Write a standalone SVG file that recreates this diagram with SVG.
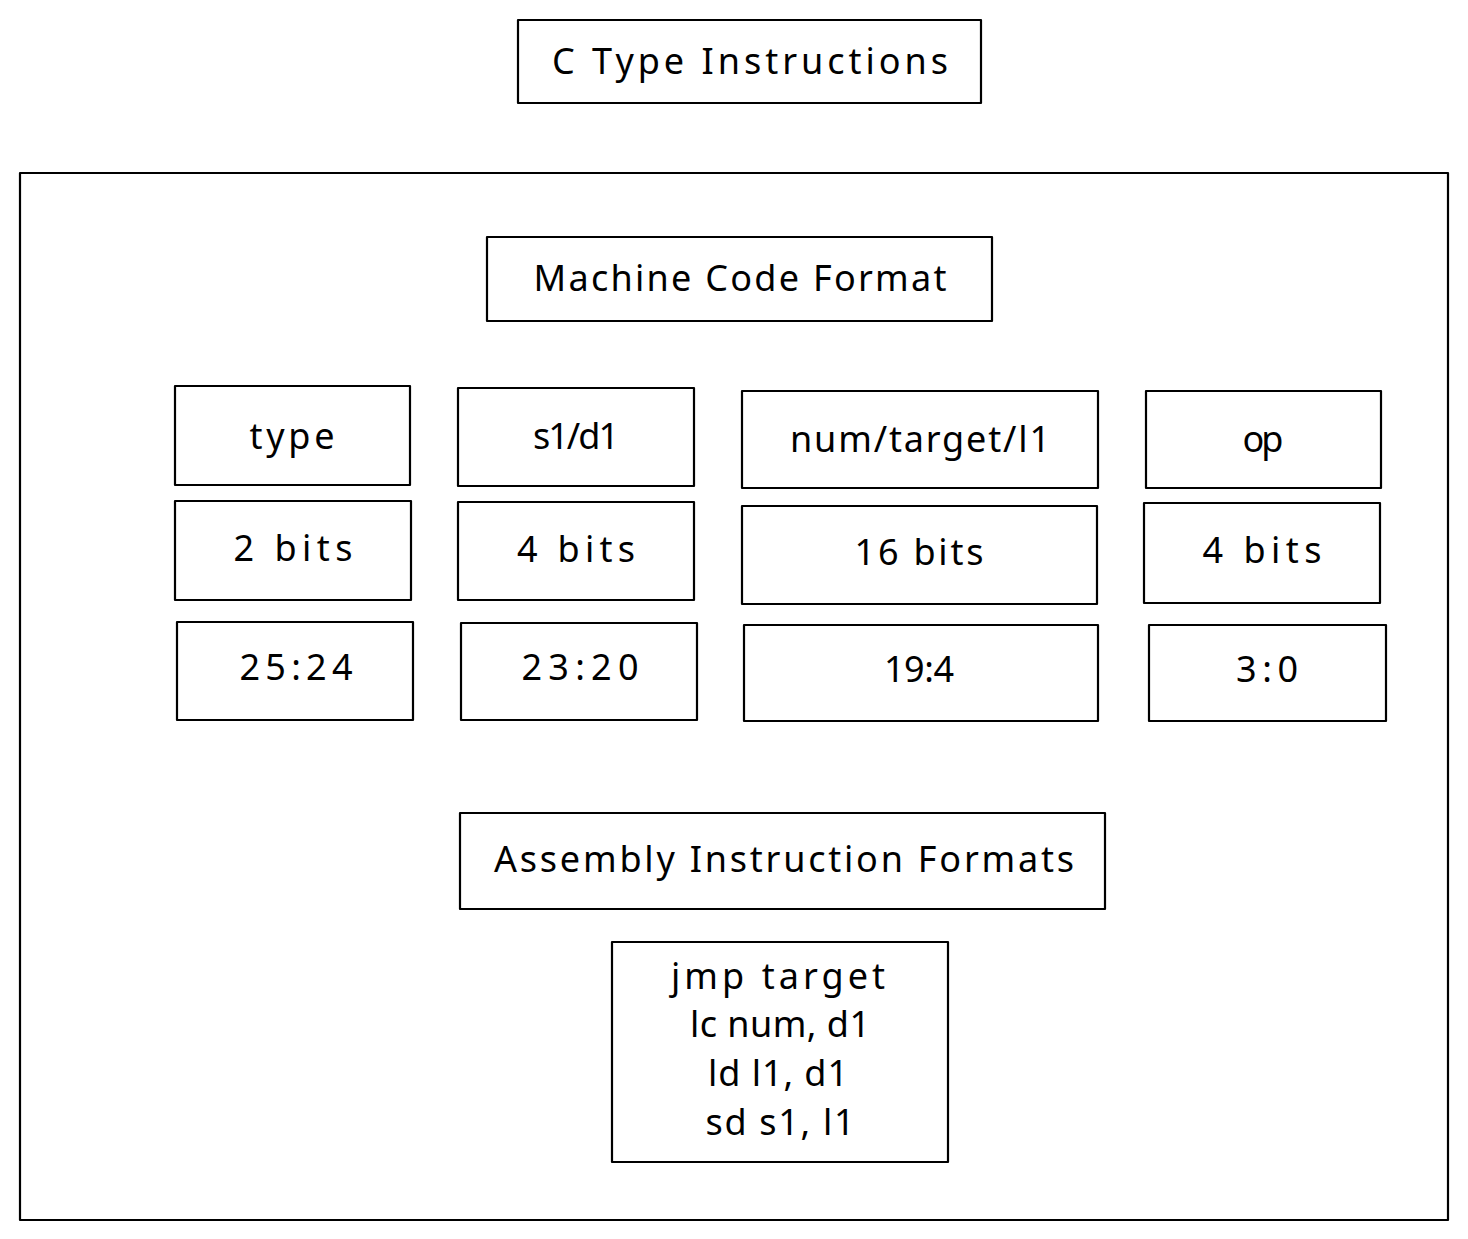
<svg xmlns="http://www.w3.org/2000/svg" width="1468" height="1239" viewBox="0 0 1468 1239">
<style>
.box{fill:none;stroke:#000;stroke-width:2.2;stroke-linejoin:round}
.t{font-family:"Noto Sans","Liberation Sans",sans-serif;font-size:36px;fill:#000;text-anchor:middle}
</style>
<rect x="0" y="0" width="1468" height="1239" fill="#fff"/>
<g id="title"><rect class="box" x="518" y="20" width="463" height="83"/><text class="t" x="750" y="74" textLength="396">C Type Instructions</text></g>
<g id="frame"><rect class="box" x="20" y="173" width="1428" height="1047"/></g>
<g id="machine-code-format"><rect class="box" x="487" y="237" width="505" height="84"/><text class="t" x="740" y="291" textLength="413">Machine Code Format</text></g>
<g id="f-type"><rect class="box" x="175" y="386" width="235" height="99"/><text class="t" x="292" y="449" textLength="85">type</text></g>
<g id="f-s1d1"><rect class="box" x="458" y="388" width="236" height="98"/><text class="t" x="576" y="449" textLength="86">s1/d1</text></g>
<g id="f-num"><rect class="box" x="742" y="391" width="356" height="97"/><text class="t" x="920" y="452" textLength="260">num/target/l1</text></g>
<g id="f-op"><rect class="box" x="1146" y="391" width="235" height="97"/><text class="t" x="1263" y="452" textLength="41">op</text></g>
<g id="b-type"><rect class="box" x="175" y="501" width="236" height="99"/><text class="t" x="293" y="561" textLength="119">2 bits</text></g>
<g id="b-s1d1"><rect class="box" x="458" y="502" width="236" height="98"/><text class="t" x="576" y="562" textLength="118">4 bits</text></g>
<g id="b-num"><rect class="box" x="742" y="506" width="355" height="98"/><text class="t" x="919" y="565" textLength="129">16 bits</text></g>
<g id="b-op"><rect class="box" x="1144" y="503" width="236" height="100"/><text class="t" x="1262" y="563" textLength="119">4 bits</text></g>
<g id="r-type"><rect class="box" x="177" y="622" width="236" height="98"/><text class="t" x="296" y="680" textLength="113">25:24</text></g>
<g id="r-s1d1"><rect class="box" x="461" y="623" width="236" height="97"/><text class="t" x="580" y="680" textLength="117">23:20</text></g>
<g id="r-num"><rect class="box" x="744" y="625" width="354" height="96"/><text class="t" x="919" y="682" textLength="70">19:4</text></g>
<g id="r-op"><rect class="box" x="1149" y="625" width="237" height="96"/><text class="t" x="1267" y="682" textLength="62">3:0</text></g>
<g id="assembly-formats"><rect class="box" x="460" y="813" width="645" height="96"/><text class="t" x="784" y="872" textLength="580">Assembly Instruction Formats</text></g>
<g id="assembly-code"><rect class="box" x="612" y="942" width="336" height="220"/>
<text class="t" x="778" y="989" textLength="214">jmp target</text>
<text class="t" x="780" y="1037" textLength="180">lc num, d1</text>
<text class="t" x="778" y="1086" textLength="140">ld l1, d1</text>
<text class="t" x="780" y="1135" textLength="149">sd s1, l1</text>
</g>
<g id="connectors"></g>
</svg>
